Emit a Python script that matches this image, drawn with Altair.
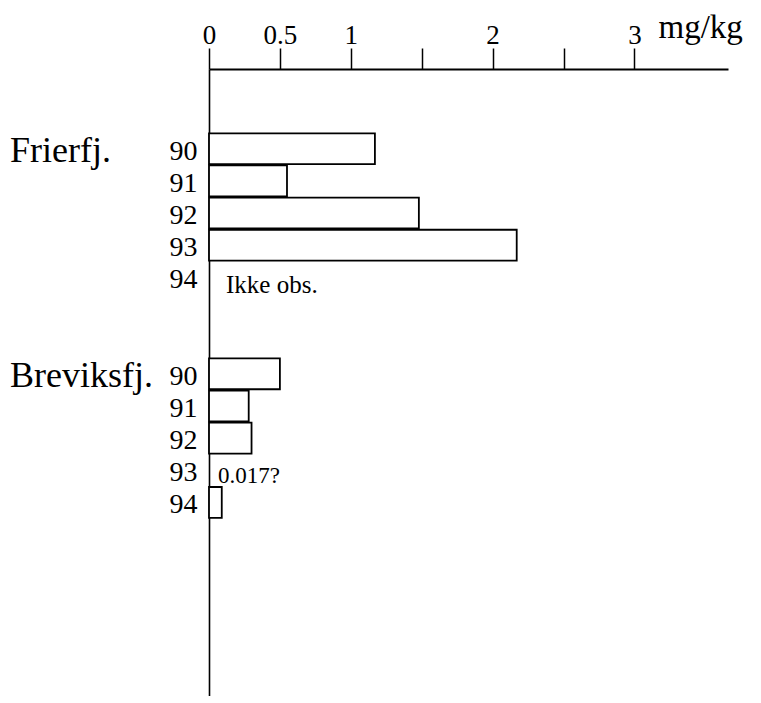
import altair as alt
import pandas as pd

# ---- data ----
sites = ["Frierfj.", "Breviksfj."]
years = ["90", "91", "92", "93", "94"]
frierfj_mgkg = [1.17, 0.55, 1.48, 2.17, None]      # 94: not observed
breviksfj_mgkg = [0.50, 0.28, 0.30, None, 0.09]    # 93: 0.017? (no bar drawn)
frierfj_notes = ["", "", "", "", "Ikke obs."]
breviksfj_notes = ["", "", "", "0.017?", ""]
x_ticks = [0, 0.5, 1, 1.5, 2, 2.5, 3]
x_tick_labels = ["0", "0.5", "1", "", "2", "", "3"]
unit = "mg/kg"

FONT = "Liberation Serif"

# ---- row layout (blank spacer rows between groups) ----
row_keys = (["pad a", "pad b"] + [f"{sites[0]} {y}" for y in years]
            + ["pad c", "pad d"] + [f"{sites[1]} {y}" for y in years]
            + ["pad e", "pad f", "pad g", "pad h", "pad i"])
year_rows = [f"{s} {y}" for s in sites for y in years]

bars, notes_a, notes_b, groups = [], [], [], []
for site, vals, notes in [(sites[0], frierfj_mgkg, frierfj_notes),
                          (sites[1], breviksfj_mgkg, breviksfj_notes)]:
    groups.append({"row": f"{site} {years[0]}", "label": site})
    for y, v, n in zip(years, vals, notes):
        key = f"{site} {y}"
        if v is not None:
            bars.append({"row": key, "value": v})
        if n:
            (notes_a if site == sites[0] else notes_b).append({"row": key, "value": 0.0, "note": n})

bars_df = pd.DataFrame(bars)
notes_a_df = pd.DataFrame(notes_a)
notes_b_df = pd.DataFrame(notes_b)
groups_df = pd.DataFrame(groups)

label_expr = " : ".join(
    [f"datum.value == {t} ? '{l}'" for t, l in zip(x_ticks, x_tick_labels)] + ["''"]
)

x_scale = alt.Scale(domain=[0, 3.66], nice=False, zero=True)
x_axis = alt.Axis(
    orient="top", values=x_ticks, labelExpr=label_expr, grid=False,
    tickSize=21, tickWidth=1.5, tickColor="black",
    domainWidth=1.8, domainColor="black",
    labelFont=FONT, labelFontSize=27, labelColor="black",
    labelPadding=5, labelBaseline="alphabetic", labelFlush=False, labelOverlap=False,
    title=unit, titleFont=FONT, titleFontSize=33, titleFontWeight="normal",
    titleColor="black", titleX=449, titleY=-32, titleAlign="left",
    titleBaseline="alphabetic", titleAngle=0,
)
y_scale = alt.Scale(domain=row_keys, paddingInner=0.04, paddingOuter=0.27, align=0)
y_axis = alt.Axis(
    orient="left", values=year_rows, labelExpr="slice(datum.value, -2)",
    ticks=False, tickSize=0, grid=False, domainColor="black", domainWidth=1.6,
    labelFont=FONT, labelFontSize=28, labelColor="black", labelPadding=12,
    labelOffset=3, labelBaseline="middle", title=None,
)

y_enc = alt.Y("row:N", scale=y_scale, axis=y_axis, sort=row_keys)
x_enc = alt.X("value:Q", scale=x_scale, axis=x_axis)

bar_layer = alt.Chart(bars_df).mark_bar(
    fill="white", stroke="black", strokeWidth=1.8
).encode(x=x_enc, y=y_enc)

note_a_layer = alt.Chart(notes_a_df).mark_text(
    align="left", baseline="middle", dx=17, dy=8, font=FONT, fontSize=25, color="black"
).encode(x=x_enc, y=y_enc, text="note:N")

note_b_layer = alt.Chart(notes_b_df).mark_text(
    align="left", baseline="middle", dx=9, dy=6, font=FONT, fontSize=23, color="black"
).encode(x=x_enc, y=y_enc, text="note:N")

group_layer = alt.Chart(groups_df).mark_text(
    align="left", baseline="alphabetic", dy=13, font=FONT, fontSize=36, color="black"
).encode(x=alt.value(-199), y=y_enc, text="label:N")

chart = alt.layer(bar_layer, note_a_layer, note_b_layer, group_layer).properties(
    width=519, height=627,
    padding={"left": 201, "top": 61, "right": 25, "bottom": 0},
    autosize=alt.AutoSizeParams(type="none"),
    background="white",
).configure_view(stroke=None)

chart.save("out.html", embed_options={"renderer": "svg", "actions": False})
